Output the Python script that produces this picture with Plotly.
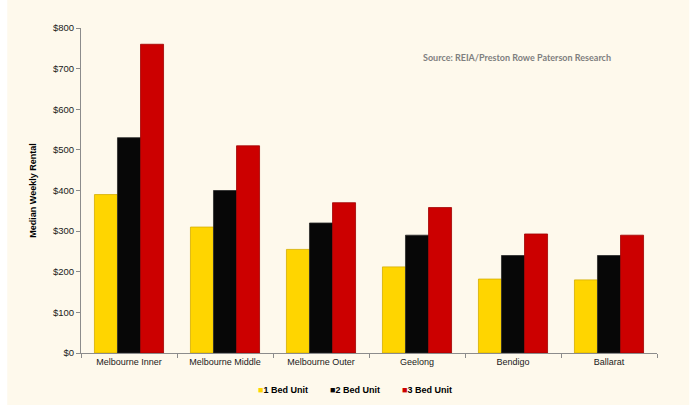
import plotly.graph_objects as go

categories = ["Melbourne Inner", "Melbourne Middle", "Melbourne Outer", "Geelong", "Bendigo", "Ballarat"]
series_names = ["1 Bed Unit", "2 Bed Unit", "3 Bed Unit"]
bed1 = [390, 310, 255, 212, 182, 180]
bed2 = [530, 400, 320, 290, 240, 240]
bed3 = [760, 510, 370, 358, 293, 290]
y_ticks = [0, 100, 200, 300, 400, 500, 600, 700, 800]
y_tick_labels = ["$0", "$100", "$200", "$300", "$400", "$500", "$600", "$700", "$800"]
source_text = "Source: REIA/Preston Rowe Paterson Research"
y_title = "Median Weekly Rental"

fills = ["#FFD500", "#070707", "#CC0000"]
edges = ["#D4AE00", "#2A2A2A", "#A00000"]

fig = go.Figure()
for name, vals, fc, ec in zip(series_names, [bed1, bed2, bed3], fills, edges):
    fig.add_trace(go.Bar(
        x=categories, y=vals, name=name, showlegend=False,
        marker=dict(color=fc, line=dict(color=ec, width=0.8)),
    ))

# cream backdrop
fig.add_shape(type="rect", xref="paper", yref="paper",
              x0=-0.128, x1=1.056, y0=-0.17, y1=1.1,
              fillcolor="#FEF9EC", line=dict(width=0), layer="below")

# legend built from text entries
legend_x = [0.3038, 0.4288, 0.5538]
for name, fc, lx in zip(series_names, fills, legend_x):
    fig.add_annotation(
        text=f"<span style='color:{fc}'>■</span>{name}",
        xref="paper", yref="paper", x=lx, y=-0.1138,
        xanchor="left", yanchor="middle", showarrow=False,
        font=dict(family="Liberation Sans", size=9, color="#000000", weight="bold"))

fig.add_annotation(text=source_text, xref="paper", yref="paper",
                   x=0.59, y=0.91, xanchor="left", yanchor="middle",
                   showarrow=False,
                   font=dict(family="Lato", size=9, color="#7F7F7F", weight="bold"))

fig.update_layout(
    width=699, height=405,
    margin=dict(l=81, r=42, t=28, b=52, autoexpand=False),
    paper_bgcolor="#FFFFFF",
    plot_bgcolor="#F1F1F1",
    barmode="group", bargap=0.28, bargroupgap=0,
    font=dict(family="Liberation Sans", size=9, color="#1A1A1A"),
    showlegend=False,
    xaxis=dict(showline=True, linecolor="#8C8C8C", linewidth=1,
               ticks="outside", tickson="boundaries", ticklen=4, tickcolor="#8C8C8C",
               showgrid=False, tickfont=dict(size=9)),
    yaxis=dict(range=[0, 800], tickvals=y_ticks, ticktext=y_tick_labels,
               showline=True, linecolor="#8C8C8C", linewidth=1,
               ticks="outside", ticklen=4, tickcolor="#8C8C8C",
               showgrid=False, zeroline=False, tickfont=dict(size=9.5),
               title=dict(text=y_title, font=dict(size=9, weight="bold", color="#000000"), standoff=14)),
)

fig.write_html("out.html")
